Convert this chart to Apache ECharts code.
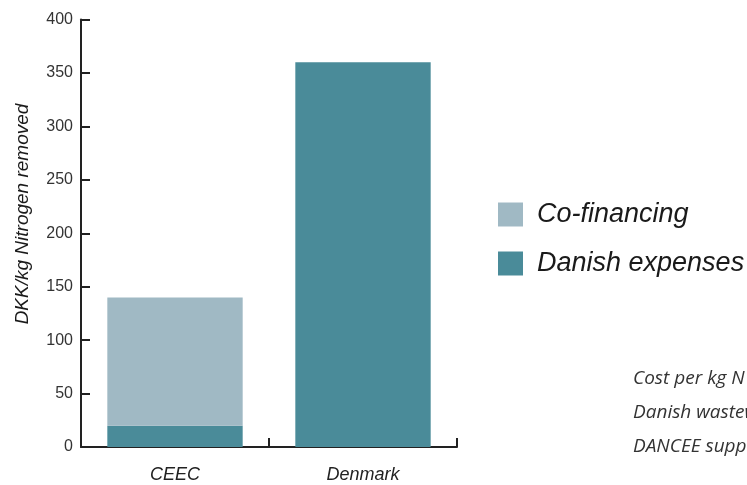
<!DOCTYPE html>
<html>
<head>
<meta charset="utf-8">
<script src="https://cdn.jsdelivr.net/npm/echarts@6/dist/echarts.min.js"></script>
<style>
  html, body { margin: 0; padding: 0; background: #fff; }
  #chart { width: 747px; height: 485px; }
</style>
</head>
<body>
<div id="chart"></div>
<script>
// Cost per kg nitrogen removed, split by who pays
const categories = ['CEEC', 'Denmark'];
const danishExpenses = [20, 360];
const coFinancing = [120, 0];
const yTicks = { min: 0, max: 400, interval: 50 };
const notes = [
  'Cost per kg N removed',
  'Danish wastewater treatment plants',
  'DANCEE supported projects'
];

const DARK = '#4a8b99';
const LIGHT = '#a0b9c4';
const INK = '#222';

const chart = echarts.init(document.getElementById('chart'));

chart.setOption({
  animation: false,
  grid: { left: 81, right: 290, top: 19.5, bottom: 38, containLabel: false },
  legend: {
    orient: 'vertical',
    left: 498,
    top: 201,
    padding: 0,
    itemWidth: 25,
    itemHeight: 24,
    itemGap: 22,
    icon: 'rect',
    textStyle: {
      fontFamily: 'Liberation Sans, Arial, sans-serif',
      fontStyle: 'italic',
      fontSize: 27,
      color: '#1a1a1a',
      padding: [0, 0, 0, 9]
    },
    data: ['Co-financing', 'Danish expenses']
  },
  xAxis: {
    type: 'category',
    data: categories,
    axisLine: { lineStyle: { color: INK, width: 2 } },
    axisTick: { show: true, inside: true, length: 9, alignWithLabel: false, lineStyle: { color: INK, width: 2 } },
    axisLabel: {
      margin: 19,
      fontFamily: 'Liberation Sans, Arial, sans-serif',
      fontStyle: 'italic',
      fontSize: 18,
      color: '#222'
    }
  },
  yAxis: {
    type: 'value',
    min: yTicks.min,
    max: yTicks.max,
    interval: yTicks.interval,
    splitLine: { show: false },
    axisLine: { show: true, lineStyle: { color: INK, width: 2 } },
    axisTick: { show: true, inside: true, length: 9, lineStyle: { color: INK, width: 2 } },
    axisLabel: {
      margin: 8,
      fontFamily: 'Liberation Sans, Arial, sans-serif',
      fontSize: 16,
      color: '#333'
    }
  },
  series: [
    {
      name: 'Danish expenses',
      type: 'bar',
      stack: 'cost',
      data: danishExpenses,
      barCategoryGap: '28%',
      itemStyle: { color: DARK }
    },
    {
      name: 'Co-financing',
      type: 'bar',
      stack: 'cost',
      data: coFinancing,
      barCategoryGap: '28%',
      itemStyle: { color: LIGHT }
    }
  ],
  graphic: [
    {
      type: 'text',
      x: 23,
      y: 214,
      rotation: Math.PI / 2,
      style: {
        text: 'DKK/kg Nitrogen removed',
        fontFamily: 'Liberation Sans, Arial, sans-serif',
        fontStyle: 'italic',
        fontSize: 19,
        fill: '#1a1a1a',
        align: 'center',
        verticalAlign: 'middle'
      }
    },
    ...notes.map((t, i) => ({
      type: 'text',
      x: 633,
      y: 379 + i * 34,
      style: {
        text: t,
        fontFamily: 'Open Sans, Noto Sans, sans-serif',
        fontStyle: 'italic',
        fontSize: 19,
        fill: '#333',
        align: 'left',
        verticalAlign: 'middle'
      }
    }))
  ]
});
</script>
</body>
</html>
